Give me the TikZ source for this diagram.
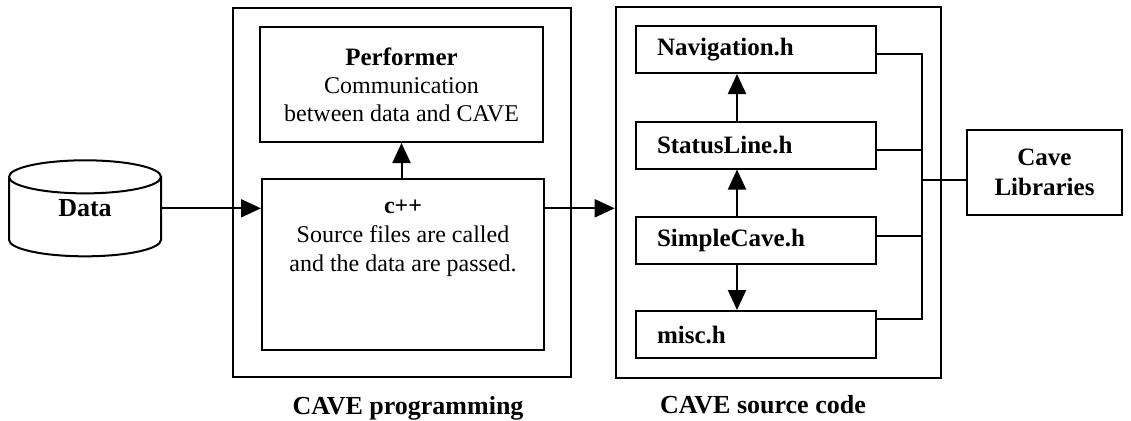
\documentclass[tikz,border=0pt]{standalone}
\usepackage{fontspec}
\setmainfont{Liberation Serif}
\usetikzlibrary{shapes.geometric, arrows.meta}

\begin{document}
\begin{tikzpicture}[x=1pt, y=-1pt,
  every node/.style={font=\fontsize{24}{28}\selectfont},
  bigbox/.style={draw, line width=2.6pt, inner sep=0pt},
  box/.style={draw, line width=2pt, align=center},
  file/.style={draw, line width=2pt, minimum width=240pt, minimum height=47pt,
    text width=198pt, align=left, font=\fontsize{25}{28}\selectfont\bfseries},
  wire/.style={line width=2pt},
  arr/.style={wire, -{Triangle[length=20pt, width=18pt]}}]
\useasboundingbox (0,0) rectangle (1131,420);
\node[cylinder, draw, line width=2pt, shape border rotate=90, aspect=0.55,
  minimum width=152pt, minimum height=96pt,
  font=\fontsize{26}{28}\selectfont\bfseries] (data) at (85,219.5) {\phantom{Data}};
\node[font=\fontsize{26}{28}\selectfont\bfseries] (datatext) at (data.shape center) {Data};
% CAVE programming
\node[bigbox, minimum width=338pt, minimum height=369pt] (prog) at (402,192.5) {};
\node[box, minimum width=283pt, minimum height=115pt] (perf) at (401.5,84.5)
  {\textbf{\fontsize{25}{28}\selectfont Performer}\\Communication\\between data and CAVE};
\node[box, minimum width=282pt, minimum height=171pt] (cpp) at (403,264.5) {};
\node[anchor=north, align=center, font=\fontsize{24}{29}\selectfont] (cpptext) at (403,196)
  {\textbf{c++}\\Source files are called\\and the data are passed.};
\node[font=\fontsize{26}{28}\selectfont\bfseries] (proglabel) at (408,408) {CAVE programming};
% CAVE source code
\node[bigbox, minimum width=325pt, minimum height=371pt] (src) at (778.5,192.5) {};
\node[file] (nav) at (756,49.5) {Navigation.h};
\node[file] (stat) at (756,145) {StatusLine.h};
\node[file] (simp) at (756,240.5) {SimpleCave.h};
\node[file] (misc) at (756,334.5) {misc.h};
\node[font=\fontsize{26}{28}\selectfont\bfseries] (srclabel) at (763,405) {CAVE source code};
\node[box, minimum width=155pt, minimum height=85pt,
  font=\fontsize{25}{30}\selectfont\bfseries] (lib) at (1044.5,172.5) {Cave\\Libraries};
\coordinate (bus) at (922,180);
% Arrows
\draw[arr] (datatext -| data.east) -- (datatext -| cpp.west);
\draw[arr] (cpp.east |- datatext) -- (src.west |- datatext);
\draw[arr] (perf.south |- cpp.north) -- (perf.south);
\draw[arr] ([xshift=-19pt]stat.north) -- ([xshift=-19pt]nav.south);
\draw[arr] ([xshift=-19pt]simp.north) -- ([xshift=-19pt]stat.south);
\draw[arr] ([xshift=-19pt]simp.south) -- ([xshift=-19pt]misc.north);
% Libraries
\draw[wire] ([yshift=-5pt]nav.east) -| (bus);
\draw[wire] ([yshift=-5pt]stat.east) -- ([yshift=-5pt]stat.east -| bus);
\draw[wire] ([yshift=5pt]simp.east) -- ([yshift=5pt]simp.east -| bus);
\draw[wire] ([yshift=16pt]misc.east) -| (bus);
\draw[wire] (bus) -- (bus -| lib.west);
\end{tikzpicture}
\end{document}
